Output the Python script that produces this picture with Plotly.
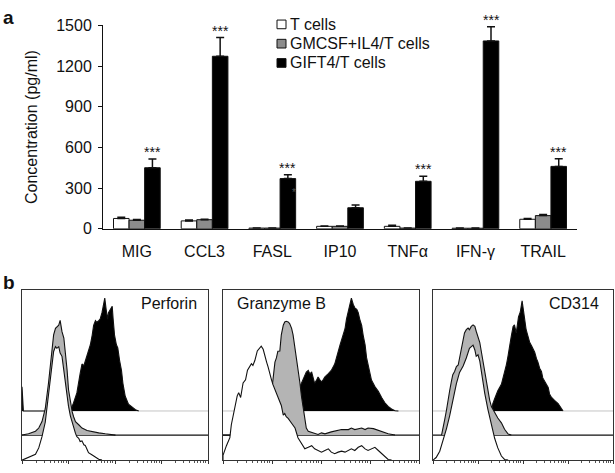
import plotly.graph_objects as go

# ---------------------------------------------------------------------------
# Panel a: cytokine secretion (pg/ml, mean + SE)
# ---------------------------------------------------------------------------

CYTOKINES = ["MIG", "CCL3", "FASL", "IP10", "TNFα", "IFN-γ", "TRAIL"]
GROUPS = ["T cells", "GMCSF+IL4/T cells", "GIFT4/T cells"]

T_CELLS = [76, 58, 5, 18, 18, 4, 70]
T_CELLS_SE = [9, 6, 1, 2, 8, 1, 6]
GMCSF_IL4 = [63, 67, 5, 18, 5, 4, 97]
GMCSF_IL4_SE = [5, 3, 1, 2, 1, 1, 8]
GIFT4 = [450, 1272, 370, 155, 350, 1385, 460]
GIFT4_SE = [64, 138, 28, 20, 38, 105, 57]
SIGNIF = ["***", "***", "***", "", "***", "***", "***"]

# ---------------------------------------------------------------------------
# Panel b: flow histograms, (log10 fluorescence, events)
# ---------------------------------------------------------------------------

PERFORIN_T = [
    (0.00, 0), (0.14, 2.7), (0.29, 6), (0.36, 12.7), (0.43, 24.3), (0.50, 39.3),
    (0.57, 69.3), (0.61, 89), (0.65, 102.7), (0.68, 112.7), (0.72, 117.7),
    (0.75, 116), (0.79, 117.7), (0.82, 111), (0.86, 107.7), (0.90, 92.7),
    (0.93, 79.3), (0.97, 66), (1.00, 56), (1.04, 46), (1.08, 39.3), (1.11, 32.7),
    (1.15, 27.7), (1.18, 24.3), (1.22, 22.7), (1.25, 19.3), (1.29, 20), (1.33, 16),
    (1.36, 15.3), (1.40, 11), (1.43, 7.7), (1.51, 5.3), (1.58, 3.3), (1.65, 1),
    (1.72, 0),
]
PERFORIN_GM = [
    (0.00, 0), (0.14, 1.3), (0.29, 4), (0.36, 7.3), (0.43, 14), (0.50, 27.3),
    (0.57, 54), (0.61, 74), (0.65, 90.7), (0.68, 104), (0.72, 110.7),
    (0.75, 112.3), (0.79, 114), (0.82, 119), (0.86, 107.3), (0.90, 100.7),
    (0.93, 87.3), (0.97, 67.3), (1.00, 47.3), (1.04, 34), (1.08, 24), (1.11, 19),
    (1.15, 14), (1.22, 10.7), (1.29, 7.3), (1.40, 4.7), (1.51, 3.3), (1.65, 2.3),
    (1.79, 1.3), (1.94, 0.7), (2.01, 0),
]
PERFORIN_GIFT4 = [
    (0.00, 25), (0.03, 0), (1.04, 0), (1.11, 8.7), (1.18, 18.7), (1.25, 38.7),
    (1.29, 48.7), (1.33, 47), (1.36, 52), (1.40, 58.7), (1.43, 63.7), (1.47, 68.7),
    (1.51, 78.7), (1.54, 88.7), (1.58, 93.7), (1.61, 92), (1.65, 93.7),
    (1.68, 95.3), (1.72, 102), (1.76, 112), (1.78, 117), (1.81, 105.3),
    (1.84, 95.3), (1.86, 102), (1.90, 105.3), (1.94, 108.7), (1.96, 95.3),
    (1.99, 78.7), (2.03, 68.7), (2.06, 65.3), (2.10, 52), (2.14, 42), (2.17, 28.7),
    (2.22, 15.3), (2.29, 7), (2.37, 3.7), (2.44, 1.3), (2.51, 0),
]

GRANZYME_T = [
    (0.00, 5), (0.07, 15), (0.14, 23.3), (0.17, 36.7), (0.24, 53.3), (0.29, 66.7),
    (0.32, 70), (0.36, 65), (0.41, 80), (0.46, 83.3), (0.50, 93.3), (0.55, 96.7),
    (0.58, 100), (0.61, 98.3), (0.65, 103.3), (0.70, 113.3), (0.75, 116.7),
    (0.78, 118.3), (0.82, 115), (0.85, 108.3), (0.89, 101.7), (0.92, 96.7),
    (0.95, 90), (0.99, 83.3), (1.02, 78.3), (1.06, 73.3), (1.12, 66.7),
    (1.19, 56.7), (1.23, 46.7), (1.26, 48.3), (1.29, 45), (1.33, 43.3),
    (1.40, 38.3), (1.47, 33.3), (1.53, 23.3), (1.60, 16.7), (1.67, 11.7),
    (1.74, 13.3), (1.81, 15), (1.87, 11.7), (1.94, 10), (2.01, 8.3), (2.08, 10),
    (2.15, 11.7), (2.21, 8.3), (2.28, 6.7), (2.35, 8.3), (2.42, 9.3), (2.49, 8.3),
    (2.56, 10), (2.62, 11.7), (2.69, 10), (2.76, 13.3), (2.83, 15), (2.90, 11.7),
    (2.96, 10), (3.03, 11.7), (3.10, 13.3), (3.17, 10), (3.24, 6.7), (3.30, 3.3),
    (3.37, 0.7), (3.44, 0),
]
GRANZYME_GM = [
    (0.00, 0), (0.51, 0), (0.65, 7), (0.85, 20), (0.99, 44), (1.06, 75.7),
    (1.09, 80), (1.12, 87), (1.16, 87.3), (1.19, 104), (1.23, 114), (1.26, 117.3),
    (1.29, 118), (1.33, 117.3), (1.36, 115.7), (1.40, 110.7), (1.43, 104),
    (1.47, 90.7), (1.50, 79), (1.53, 65.7), (1.57, 54), (1.60, 40.7), (1.64, 27.3),
    (1.67, 15.7), (1.70, 7.3), (1.74, 4), (1.87, 2.3), (1.94, 0.7), (2.01, 2.3),
    (2.08, 1.3), (2.21, 3.3), (2.35, 4.7), (2.42, 5.7), (2.56, 5.7), (2.62, 7.3),
    (2.69, 5.7), (2.83, 7.3), (2.90, 5.7), (2.96, 7.3), (3.07, 6.7), (3.17, 4.7),
    (3.24, 3.3), (3.37, 1.3), (3.51, 0),
]
GRANZYME_GIFT4 = [
    (0.85, 0), (1.19, 6), (1.47, 14), (1.53, 18.7), (1.57, 25.3), (1.60, 28.7),
    (1.64, 32), (1.67, 37), (1.70, 40.3), (1.74, 42), (1.77, 38.7), (1.81, 40.3),
    (1.84, 35.3), (1.87, 28.7), (1.91, 32), (1.94, 35.3), (1.98, 32), (2.01, 30.3),
    (2.04, 32), (2.08, 35.3), (2.15, 38.7), (2.21, 42), (2.28, 48.7), (2.32, 57),
    (2.35, 62), (2.39, 68.7), (2.42, 73.7), (2.45, 78.7), (2.49, 85.3),
    (2.52, 95.3), (2.56, 105.3), (2.59, 112), (2.62, 117), (2.66, 110.3),
    (2.69, 107), (2.73, 105.3), (2.76, 102), (2.79, 95.3), (2.83, 88.7),
    (2.86, 78.7), (2.90, 68.7), (2.93, 55.3), (2.96, 48.7), (3.00, 38.7),
    (3.03, 32), (3.10, 25.3), (3.17, 20.3), (3.24, 13.7), (3.30, 8.7), (3.37, 4.7),
    (3.44, 2), (3.51, 0.3), (3.58, 0),
]

CD314_T = [
    (0.00, 0), (0.07, 2.7), (0.15, 9.3), (0.22, 19.3), (0.30, 32.7), (0.37, 46),
    (0.44, 62.7), (0.52, 79.3), (0.59, 91), (0.67, 97.7), (0.74, 106), (0.81, 116),
    (0.89, 119.3), (0.93, 114.3), (0.96, 107.7), (1.00, 109.3), (1.04, 102.7),
    (1.07, 92.7), (1.11, 82.7), (1.15, 69.3), (1.22, 52.7), (1.30, 36),
    (1.37, 22.7), (1.44, 12.7), (1.52, 4.3), (1.59, 0.7), (1.67, 0),
]
CD314_GM = [
    (0.19, 0), (0.22, 6), (0.26, 16), (0.30, 26), (0.33, 36), (0.37, 46),
    (0.41, 56), (0.44, 62.7), (0.48, 66), (0.52, 71), (0.56, 72.7), (0.59, 79.3),
    (0.63, 89.3), (0.67, 99.3), (0.70, 106), (0.74, 109.3), (0.78, 111),
    (0.81, 109.3), (0.85, 112.7), (0.89, 114.3), (0.93, 112.7), (0.96, 107.7),
    (1.00, 102.7), (1.04, 96), (1.07, 87.7), (1.11, 76), (1.15, 66), (1.19, 56),
    (1.22, 46), (1.26, 36), (1.30, 29.3), (1.37, 22.7), (1.44, 17.7), (1.52, 12.7),
    (1.59, 6), (1.67, 1), (1.74, 0),
]
CD314_GIFT4 = [
    (1.30, 0), (1.33, 7.7), (1.37, 12.7), (1.44, 21), (1.52, 27.7), (1.56, 34.3),
    (1.59, 41), (1.63, 47.7), (1.67, 57.7), (1.70, 67.7), (1.74, 77.7),
    (1.78, 87.7), (1.81, 89.3), (1.85, 81), (1.87, 91), (1.90, 97.7),
    (1.94, 102.7), (1.98, 114.3), (2.01, 104.3), (2.04, 94.3), (2.07, 84.3),
    (2.11, 77.7), (2.15, 71), (2.19, 67.7), (2.22, 64.3), (2.26, 61), (2.30, 54.3),
    (2.33, 51), (2.37, 44.3), (2.41, 41), (2.44, 34.3), (2.48, 31), (2.52, 27.7),
    (2.56, 24.3), (2.59, 17.7), (2.63, 14.3), (2.70, 11), (2.78, 7.7),
    (2.85, 2.7), (2.89, 0),
]

MARKERS = ["Perforin", "Granzyme B", "CD314"]

# ---------------------------------------------------------------------------
# Styling
# ---------------------------------------------------------------------------

FONT = "Liberation Sans, Arial, sans-serif"
INK = "#111111"
BAR_GRAY = "#8c8c8c"
HIST_GRAY = "#b4b4b4"
GRAY_BASE = 26     # vertical offset of the GMCSF+IL4 histogram
BLACK_BASE = 51    # vertical offset of the GIFT4 histogram
W, H = 615, 473

fig = go.Figure()

bar_colors = ["white", BAR_GRAY, "black"]
bar_series = [
    (T_CELLS, T_CELLS_SE),
    (GMCSF_IL4, GMCSF_IL4_SE),
    (GIFT4, GIFT4_SE),
]
for name, (vals, se), color in zip(GROUPS, bar_series, bar_colors):
    fig.add_trace(go.Bar(
        x=CYTOKINES, y=vals, name=name, showlegend=False,
        marker=dict(color=color, line=dict(color=INK, width=1)),
        error_y=dict(type="data", array=se, arrayminus=[0] * len(se),
                     symmetric=False, color=INK, thickness=1.5, width=4),
        xaxis="x", yaxis="y",
    ))


def add_hist(pts, base, fill, idx):
    xs = [10 ** d for d, _ in pts]
    ys = [base + h for _, h in pts]
    xs = [xs[0]] + xs + [xs[-1]]
    ys = [base] + ys + [base]
    fig.add_trace(go.Scatter(
        x=xs, y=ys, mode="lines", fill="toself", fillcolor=fill,
        line=dict(color=INK, width=1.1), showlegend=False, hoverinfo="skip",
        xaxis=f"x{idx}", yaxis=f"y{idx}",
    ))


panels = [
    (PERFORIN_T, PERFORIN_GM, PERFORIN_GIFT4),
    (GRANZYME_T, GRANZYME_GM, GRANZYME_GIFT4),
    (CD314_T, CD314_GM, CD314_GIFT4),
]
# back to front: GIFT4 (black), GMCSF+IL4 (gray), T cells (white)
for i, (t_pts, gm_pts, g4_pts) in enumerate(panels, start=2):
    add_hist(g4_pts, BLACK_BASE, "black", i)
    add_hist(gm_pts, GRAY_BASE, HIST_GRAY, i)
    add_hist(t_pts, 0, "white", i)

hist_x_domains = [(22 / W, 208 / W), (223 / W, 419 / W), (433 / W, 613 / W)]
hist_y_domain = (1 - 469 / H, 1 - 293 / H)

layout = dict(
    width=W, height=H,
    margin=dict(l=0, r=0, t=0, b=0),
    paper_bgcolor="white", plot_bgcolor="white",
    font=dict(family=FONT, size=16, color=INK),
    barmode="group", bargap=0.31, bargroupgap=0,
    showlegend=False,
    xaxis=dict(domain=[103 / W, 577 / W], anchor="y", showline=True,
               linecolor=INK, linewidth=1, ticks="", showgrid=False,
               ticklabelstandoff=8, tickfont=dict(size=16)),
    yaxis=dict(domain=[1 - 229 / H, 1 - 18 / H], anchor="x",
               range=[0, 1500], dtick=300, showline=True, linecolor=INK,
               linewidth=1, ticks="outside", ticklen=4, tickcolor=INK,
               showgrid=False, zeroline=False, tickfont=dict(size=16),
               ticklabelstandoff=3,
               title=dict(text="Concentration (pg/ml)", standoff=14,
                          font=dict(size=16))),
)

shapes = []
for i, dom in enumerate(hist_x_domains, start=2):
    layout[f"xaxis{i}"] = dict(
        domain=list(dom), anchor=f"y{i}", type="log", range=[0, 4],
        showline=True, mirror=True, linecolor="#333333", linewidth=1,
        ticks="outside", ticklen=3, tickcolor="#333333", dtick=1,
        showticklabels=False, showgrid=False, zeroline=False,
        minor=dict(ticks="outside", ticklen=2, tickcolor="#555555",
                   dtick="D1", showgrid=False),
    )
    layout[f"yaxis{i}"] = dict(
        domain=list(hist_y_domain), anchor=f"x{i}", range=[0, 176],
        showline=True, mirror=True, linecolor="#333333", linewidth=1,
        ticks="", showticklabels=False, showgrid=False, zeroline=False,
    )
    shapes.append(dict(type="line", xref=f"x{i} domain", yref=f"y{i}",
                       x0=0, x1=1, y0=BLACK_BASE, y1=BLACK_BASE,
                       line=dict(color="#c4c4c4", width=1), layer="below"))
    shapes.append(dict(type="line", xref=f"x{i} domain", yref=f"y{i}",
                       x0=0, x1=1, y0=GRAY_BASE, y1=GRAY_BASE,
                       line=dict(color=INK, width=1.1), layer="below"))

annotations = [
    dict(text="<b>a</b>", x=1 / W, y=1 - 10 / H, xref="paper", yref="paper",
         xanchor="left", yanchor="middle", showarrow=False,
         font=dict(size=19)),
    dict(text="<b>b</b>", x=1 / W, y=1 - 285 / H, xref="paper", yref="paper",
         xanchor="left", yanchor="middle", showarrow=False,
         font=dict(size=19)),
    dict(text="*", x="FASL", y=265, xref="x", yref="y", xshift=22,
         showarrow=False, font=dict(size=10, color="#555555")),
]
for cat, v, se, s in zip(CYTOKINES, GIFT4, GIFT4_SE, SIGNIF):
    if s:
        annotations.append(dict(
            text=s, x=cat, y=v + se, xref="x", yref="y", xshift=15.6,
            yshift=-3, yanchor="bottom", showarrow=False,
            font=dict(size=14)))

# legend: swatch + label rows in the upper middle of panel a
legend_rows = [17, 37, 57]
for name, color, cy in zip(GROUPS, bar_colors, legend_rows):
    shapes.append(dict(type="rect", xref="paper", yref="paper",
                       x0=277 / W, x1=286 / W,
                       y0=1 - (cy + 4.5) / H, y1=1 - (cy - 4.5) / H,
                       fillcolor=color, line=dict(color=INK, width=1)))
    annotations.append(dict(text=name, x=288 / W, y=1 - cy / H,
                            xref="paper", yref="paper", xanchor="left",
                            yanchor="middle", showarrow=False,
                            font=dict(size=16)))

label_pos = [(0.95, "right"), (0.06, "left"), (0.935, "right")]
for i, (name, (lx, anchor)) in enumerate(zip(MARKERS, label_pos), start=2):
    annotations.append(dict(
        text=name, x=lx, y=0.985, xref=f"x{i} domain", yref=f"y{i} domain",
        xanchor=anchor, yanchor="top", showarrow=False, font=dict(size=16)))

layout["shapes"] = shapes
layout["annotations"] = annotations
fig.update_layout(**layout)

# drop the default page margin so the 615x473 figure fills the window
fig.write_html("out.html", config={"displayModeBar": False},
               post_script="document.body.style.margin='0';")
